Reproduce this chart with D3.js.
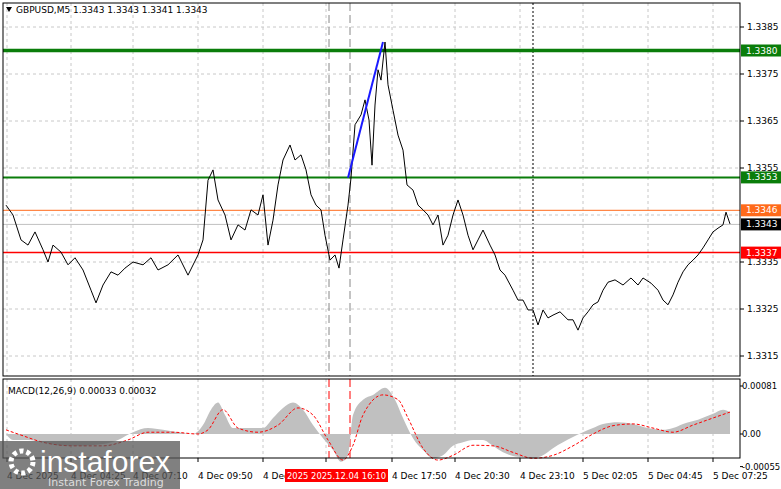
<!DOCTYPE html>
<html><head><meta charset="utf-8">
<script src="https://cdn.jsdelivr.net/npm/d3@7"></script>
<style>body{margin:0;background:#fff}svg{display:block}</style>
</head><body><div id="chart"></div>
<script>
// close prices, [bar, price]
const closes = [[3,1.33471],[10,1.3345],[18,1.33397],[25,1.33386],[32,1.33414],[40,1.33376],[45,1.3335],[50,1.33386],[58,1.33371],[65,1.33344],[72,1.33359],[80,1.33333],[88,1.3329],[93,1.33263],
[100,1.33301],[108,1.33329],[115,1.33322],[122,1.33337],[130,1.3335],[140,1.33344],[148,1.33359],[155,1.33333],[165,1.33344],[175,1.33365],[185,1.33322],[195,1.33365],
[200,1.33397],[205,1.33524],[210,1.33546],[215,1.33482],[222,1.3345],[228,1.33397],[235,1.33429],[242,1.33418],[248,1.33461],[255,1.3345],[260,1.33493],[265,1.33386],
[270,1.33439],[275,1.33514],[280,1.33567],[287,1.33599],[292,1.33567],[298,1.33578],[303,1.33546],[308,1.33493],[313,1.33471],[318,1.33461],[322,1.33407],[327,1.33354],
[332,1.33365],[336,1.33337],[340,1.33397],[345,1.33471],[348,1.33529],[352,1.33642],[358,1.33663],[362,1.33695],[366,1.33652],[369,1.33556],[372,1.33684],[375,1.33759],
[378,1.33737],[382,1.33818],[385,1.33727],[390,1.33673],[395,1.3362],[400,1.33588],[404,1.33514],[410,1.33503],[415,1.33471],[420,1.33461],[425,1.3345],[430,1.33429],
[435,1.3345],[440,1.33386],[445,1.33407],[450,1.3345],[455,1.33482],[460,1.3345],[465,1.33407],[470,1.33376],[475,1.33397],[480,1.33418],[487,1.33386],[492,1.33365],
[497,1.33333],[502,1.33322],[510,1.3329],[515,1.33269],[520,1.33269],[525,1.33248],[530,1.33248],[535,1.33216],[540,1.33248],[545,1.33231],[550,1.33237],[557,1.33244],
[565,1.33227],[570,1.33227],[575,1.33205],[580,1.33231],[585,1.33244],[590,1.33259],[595,1.33265],[600,1.3329],[605,1.33307],[612,1.33312],[620,1.33301],[628,1.33316],
[635,1.33301],[640,1.33316],[648,1.33305],[655,1.3329],[660,1.33269],[665,1.33259],[670,1.3328],[675,1.33307],[680,1.33329],[685,1.33344],[690,1.33354],[695,1.33365],
[700,1.3338],[705,1.33397],[710,1.33414],[715,1.33422],[720,1.33429],[723,1.33456],[727,1.33431]];
const trendLine = [[345,1.33529],[380,1.33818]];
const levels = [
  {p:1.3380, c:"#0a7d0a", w:3.5, label:"1.3380"},
  {p:1.3353, c:"#0a7d0a", w:2, label:"1.3353"},
  {p:1.3346, c:"#ff6a1a", w:1, label:"1.3346"},
  {p:1.3337, c:"#ff0000", w:1.5, label:"1.3337"}];
const lastPrice = 1.3343;
const priceTicks = [1.3385,1.3375,1.3365,1.3355,1.3345,1.3335,1.3325,1.3315];
const priceTickShown = ["1.3385","1.3375","1.3365","1.3355","","1.3335","1.3325","1.3315"];
const timeTicks = [4,68,130,195,260,323,389,452,517,580,645,710];
const timeLabels = ["4 Dec 2025","4 Dec 04:25","4 Dec 07:10","4 Dec 09:50","4 Dec 13:10","","4 Dec 17:50","4 Dec 20:30","4 Dec 23:10","5 Dec 02:05","5 Dec 04:45","5 Dec 07:25"];
// MACD histogram and signal, values in 1e-5
const macdHist = [[3,0],[10,-10],[25,-10],[40,-14],[55,-19],[75,-20],[100,-17],[115,-10],[130,3],[145,10],[160,7],[175,3],[190,0],[200,15],[208,41],[215,53],[222,32],[230,10],[245,10],[260,10],[270,27],[280,44],[290,53],[300,41],[310,15],[320,-7],[330,-27],[338,-47],[345,-36],[350,32],[360,58],[370,66],[382,78],[392,58],[400,27],[410,-7],[420,-27],[430,-41],[440,-36],[450,-20],[460,-14],[470,-10],[480,-10],[490,-20],[500,-31],[510,-37],[520,-39],[530,-41],[540,-36],[550,-24],[560,-14],[570,-5],[580,3],[590,10],[600,17],[615,20],[630,17],[645,10],[660,7],[670,10],[680,17],[695,24],[710,34],[720,41],[727,37]];
const macdSignal = [[3,7],[20,-3],[40,-14],[70,-20],[100,-20],[125,-10],[145,3],[170,3],[195,0],[205,7],[220,41],[235,10],[255,3],[275,15],[295,44],[310,32],[325,-10],[340,-44],[350,-19],[360,32],[380,66],[395,58],[405,27],[420,-24],[435,-44],[450,-36],[470,-19],[490,-20],[510,-31],[530,-41],[550,-36],[570,-20],[590,0],[610,14],[630,17],[650,10],[670,3],[690,15],[710,27],[727,37]];

const W = 781, H = 489, L = 3, R = 740;
const svg = d3.select("#chart").append("svg").attr("width", W).attr("height", H)
  .style("font-family", "Tahoma, 'DejaVu Sans', sans-serif").style("font-size", "9px");

let x = d3.scaleLinear().domain([0, 737]).range([L, R]);
let y = d3.scaleLinear().domain([1.3385, 1.3325]).range([27, 309]);
let ym = d3.scaleLinear().domain([0.00081, 0]).range([386, 434]);

const mainTop = 3, mainBot = 376, mTop = 379, mBot = 458;

// grids
const grid = svg.append("g").attr("stroke", "#c8c8c8").attr("stroke-dasharray", "3,3");
timeTicks.forEach(t => {
  grid.append("line").attr("x1", x(t)).attr("x2", x(t)).attr("y1", mainTop).attr("y2", mainBot);
  grid.append("line").attr("x1", x(t)).attr("x2", x(t)).attr("y1", mTop).attr("y2", mBot);
});
priceTicks.forEach(p => grid.append("line").attr("x1", L).attr("x2", R).attr("y1", y(p)).attr("y2", y(p)));

// session markers
[326, 347].forEach(t => {
  svg.append("line").attr("x1", x(t)).attr("x2", x(t)).attr("y1", mainTop).attr("y2", mainBot)
    .attr("stroke", "#888").attr("stroke-dasharray", "8,4");
  svg.append("line").attr("x1", x(t)).attr("x2", x(t)).attr("y1", mTop).attr("y2", mBot)
    .attr("stroke", "#ff0000").attr("stroke-dasharray", "8,4");
});
svg.append("line").attr("x1", x(530)).attr("x2", x(530)).attr("y1", mainTop).attr("y2", mainBot)
  .attr("stroke", "#000").attr("stroke-dasharray", "2,2");

// level lines
svg.append("line").attr("x1", L).attr("x2", R).attr("y1", y(lastPrice)).attr("y2", y(lastPrice)).attr("stroke", "#c0c0c0");
levels.forEach(d => svg.append("line").attr("x1", L).attr("x2", R).attr("y1", y(d.p)).attr("y2", y(d.p))
  .attr("stroke", d.c).attr("stroke-width", d.w));

// price
svg.append("path").datum(closes).attr("fill", "none").attr("stroke", "#000").attr("stroke-width", 1)
  .attr("d", d3.line().x(d => x(d[0])).y(d => y(d[1])));
svg.append("path").datum(trendLine).attr("fill", "none").attr("stroke", "#1a1aff").attr("stroke-width", 2)
  .attr("d", d3.line().x(d => x(d[0])).y(d => y(d[1])));

// MACD
svg.append("path").datum(macdHist).attr("fill", "#c0c0c0")
  .attr("d", d3.area().curve(d3.curveMonotoneX).x(d => x(d[0])).y0(ym(0)).y1(d => ym(d[1] * 1e-5)));
svg.append("path").datum(macdSignal).attr("fill", "none").attr("stroke", "#ff0000").attr("stroke-dasharray", "3,2")
  .attr("d", d3.line().curve(d3.curveMonotoneX).x(d => x(d[0])).y(d => ym(d[1] * 1e-5)));

// frames
svg.append("rect").attr("x", L).attr("y", mainTop).attr("width", R - L).attr("height", mainBot - mainTop).attr("fill", "none").attr("stroke", "#000");
svg.append("rect").attr("x", L).attr("y", mTop).attr("width", R - L).attr("height", mBot - mTop).attr("fill", "none").attr("stroke", "#000");

// right axis
const ax = svg.append("g");
priceTicks.forEach((p, i) => {
  if (!priceTickShown[i]) return;
  ax.append("line").attr("x1", R).attr("x2", R + 4).attr("y1", y(p)).attr("y2", y(p)).attr("stroke", "#000");
  ax.append("text").attr("x", R + 7).attr("y", y(p) + 3).text(priceTickShown[i]);
});
[[0.00081, "0.00081"], [0, "0.00"], [-0.00055, "-0.00055"]].forEach(([v, t]) => {
  ax.append("line").attr("x1", R).attr("x2", R + 3).attr("y1", ym(v)).attr("y2", ym(v)).attr("stroke", "#000");
  ax.append("text").attr("x", R + 2).attr("y", ym(v) + 3).style("font-size", "8.5px").text(t);
});
const boxes = levels.concat([{p: lastPrice, c: "#000", label: "1.3343"}]);
boxes.forEach(d => {
  ax.append("rect").attr("x", R + 1).attr("y", y(d.p) - 6).attr("width", 40).attr("height", 12).attr("fill", d.c);
  ax.append("text").attr("x", R + 6).attr("y", y(d.p) + 3).attr("fill", "#fff").text(d.label);
});

// time axis
timeTicks.forEach((t, i) => {
  svg.append("line").attr("x1", x(t)).attr("x2", x(t)).attr("y1", mBot).attr("y2", mBot + 4).attr("stroke", "#000");
  svg.append("text").attr("x", x(t)).attr("y", 479).text(timeLabels[i]);
});
svg.append("rect").attr("x", 285).attr("y", 469).attr("width", 103).attr("height", 13).attr("fill", "#ff0000");
svg.append("text").attr("x", 287).attr("y", 479).attr("fill", "#fff")
  .attr("textLength", 99).attr("lengthAdjust", "spacingAndGlyphs").text("2025 2025.12.04 16:10");

// titles
svg.append("path").attr("d", "M6,7 L12,7 L9,12 Z").attr("fill", "#000");
svg.append("text").attr("x", 16).attr("y", 13).text("GBPUSD,M5  1.3343 1.3343 1.3341 1.3343");
svg.append("text").attr("x", 8).attr("y", 394).text("MACD(12,26,9) 0.00033 0.00032");

// watermark
const wm = svg.append("g");
wm.append("rect").attr("x", 0).attr("y", 441).attr("width", 180).attr("height", 48).attr("fill", "#555").attr("opacity", 0.75);
wm.append("circle").attr("cx", 22).attr("cy", 462).attr("r", 11).attr("fill", "none").attr("stroke", "#fff").attr("stroke-width", 5).attr("stroke-dasharray", "4,3");
wm.append("text").attr("x", 40).attr("y", 472).attr("fill", "#fff").style("font-size", "30px").style("font-family", "Arial, 'Liberation Sans'").text("instaforex");
wm.append("text").attr("x", 48).attr("y", 486).attr("fill", "#ddd").style("font-size", "11px").text("Instant Forex Trading");
</script></body></html>
